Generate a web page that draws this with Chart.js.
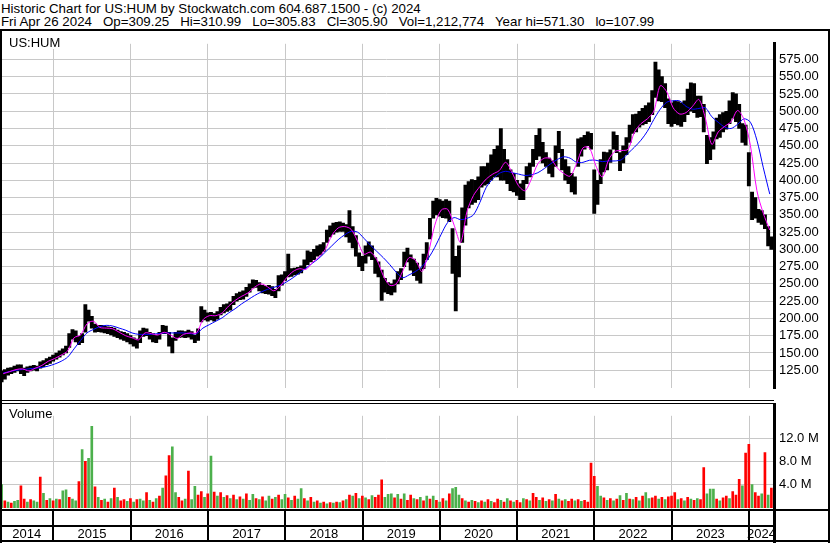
<!DOCTYPE html>
<html>
<head>
<meta charset="utf-8">
<script src="https://cdn.jsdelivr.net/npm/chart.js@4.4.1/dist/chart.umd.min.js"></script>
<style>
  html, body { margin: 0; padding: 0; background: #fff; }
  #wrap { position: relative; width: 830px; height: 543px; overflow: hidden; font-family: "Liberation Sans", Arial, sans-serif; }
  .hdr { position: absolute; left: 1px; font-size: 13.3px; white-space: pre; color: #000; line-height: 13px; }
  .rule { position: absolute; background: #000; }
  canvas { position: absolute; left: 0; }
  .tag { position: absolute; left: 9px; font-size: 13px; color: #000; background: #fff; line-height: 13px; padding-right: 1px; }
</style>
</head>
<body>
<div id="wrap">
  <div class="hdr" style="top:2px">Historic Chart for US:HUM by Stockwatch.com 604.687.1500 - (c) 2024</div>
  <div class="hdr" style="top:15px">Fri Apr 26 2024   Op=309.25   Hi=310.99   Lo=305.83   Cl=305.90   Vol=1,212,774   Year hi=571.30   lo=107.99</div>
  <canvas id="price" width="830" height="370" style="top:31px"></canvas>
  <canvas id="volume" width="830" height="140" style="top:403px"></canvas>
  <div class="rule" style="left:0;top:29px;width:830px;height:2px"></div>
  <div class="rule" style="left:0;top:400px;width:774px;height:1px"></div>
  <div class="rule" style="left:0;top:403px;width:774px;height:1px"></div>
  <div class="rule" style="left:0;top:31px;width:2px;height:512px"></div>
  <div class="rule" style="left:828px;top:31px;width:2px;height:512px"></div>
  <div class="tag" style="top:36px">US:HUM</div>
  <div class="tag" style="top:407px">Volume</div>
</div>
<script>
// rango de fechas (años decimales) visible en el gráfico
const xStart = 2014.31;
const xEnd = 2024.323;
const years = [2014, 2015, 2016, 2017, 2018, 2019, 2020, 2021, 2022, 2023, 2024];
const priceTicks = [125, 150, 175, 200, 225, 250, 275, 300, 325, 350, 375, 400, 425, 450, 475, 500, 525, 550, 575];
const volumeTicks = [4, 8, 12];

// barras de precio cada medio mes: mínimo y máximo
const lows = [
  108,112,118,120,122,124,120,117,122,124, 125,124,128,130,133,135,138,141,144,147,
  150,158,170,166,162,165,180,196,186,180, 181,180,179,178,176,174,172,170,168,166,
  163,160,157,165,174,175,170,166,165,170, 178,178,160,150,168,172,173,172,173,170,
  165,168,195,198,196,198,196,199,205,208, 210,212,220,225,227,228,232,238,244,245,
  240,237,236,235,233,230,240,248,255,260, 261,263,264,266,272,278,282,285,290,292,
  297,310,318,322,325,326,326,318,310,302, 290,275,269,280,290,285,265,260,226,238,
  236,234,238,250,256,275,282,270,262,255, 251,272,285,315,345,350,348,346,345,340,
  265,211,260,310,335,360,365,368,372,390, 393,395,400,405,405,400,400,395,385,383,
  378,372,372,395,405,420,430,435,425,420, 410,405,420,440,415,400,395,383,380,420,
  435,445,450,445,352,365,395,412,415,426, 445,440,414,425,437,455,468,470,477,480,
  482,485,495,520,515,514,505,482,478,482, 480,478,485,495,500,498,491,492,470,424,
  430,445,460,462,470,474,482,490,485,475, 455,451,392,343,345,339,336,330,305,300
];
const highs = [
  124,126,128,129,131,133,133,128,130,131, 132,131,137,139,142,144,147,150,153,156,
  160,178,184,182,174,178,220,212,203,192, 190,190,189,188,187,186,183,181,180,178,
  175,172,170,182,186,185,180,178,176,180, 190,189,180,172,180,182,182,181,183,181,
  176,185,217,212,208,209,207,210,216,220, 221,224,232,236,238,240,245,250,256,255,
  252,248,247,248,246,242,262,263,268,293, 272,273,274,276,285,298,296,300,305,307,
  310,328,334,338,339,340,338,336,356,333, 320,295,290,305,311,305,288,282,270,258,
  252,250,256,268,272,296,302,292,286,280, 272,293,310,345,370,374,372,370,372,370,
  330,290,305,360,393,398,401,400,405,420, 420,425,437,445,450,475,445,430,415,410,
  400,395,400,420,425,445,465,475,455,440, 432,428,450,471,445,430,420,410,405,460,
  462,465,470,468,415,400,430,441,440,444, 470,465,440,450,462,480,495,496,500,504,
  508,512,530,571,560,550,540,518,512,515, 514,512,515,532,541,540,522,522,510,465,
  462,470,490,495,498,500,515,527,525,510, 482,480,440,383,375,358,356,350,333,318
];

// medias móviles mensuales (rosa = corta, azul = larga)
const maShort = [
  120,123,126,127,124,128,132,138,142,147, 153,172,176,192,196,187,186,185,180,175,
  172,169,179,178,176,180,176,171,177,179, 179,198,204,204,208,218,226,232,237,245,
  250,246,240,247,259,268,272,271,281,289, 300,320,331,333,329,312,293,296,285,262,
  248,250,268,288,284,268,295,335,357,358, 335,310,355,378,391,402,409,414,426,411,
  392,385,402,424,432,431,418,410,406,424, 447,447,421,405,430,442,443,445,470,482,
  489,500,537,528,505,496,498,507,517,490, 452,470,478,485,501,488,450,385,352,328
];
const maLong = [
  121,123,125,126,127,128,129,131,134,138, 144,156,168,179,184,188,190,189,186,183,
  179,177,177,177,178,179,179,179,179,178, 178,186,191,196,201,208,214,221,227,233,
  238,242,245,248,253,259,266,273,280,287, 296,305,314,321,326,325,316,306,297,288,
  278,267,259,263,268,275,287,303,322,339, 346,343,345,350,368,390,402,410,413,411,
  409,407,408,411,417,424,430,434,432,426, 426,429,429,427,428,428,430,439,448,458,
  471,488,503,513,515,515,507,503,504,505, 492,484,477,475,481,489,484,458,418,380
];

// volumen cada medio mes (millones) y si fue alza (1) o baja (0)
const volume = [
  4.0,1.2,1.0,0.8,1.1,1.3,3.8,1.5,1.0,1.4, 1.2,1.0,5.3,2.5,1.3,1.6,1.2,1.5,1.4,2.9,
  3.1,1.8,1.5,1.2,4.5,10.0,8.0,8.5,14.0,3.6, 1.8,1.3,1.5,1.0,1.6,3.4,1.8,1.2,1.4,1.1,
  1.6,1.0,1.4,1.5,1.2,2.6,1.3,1.0,1.6,2.0, 3.4,5.5,9.0,10.5,2.6,1.8,1.2,1.5,6.3,1.4,
  3.7,2.2,2.8,1.8,2.4,8.9,2.7,2.0,2.6,1.8, 2.1,1.6,2.2,1.4,1.9,1.5,2.4,1.3,2.3,1.6,
  1.4,1.9,1.2,2.0,1.5,1.8,2.2,1.4,2.3,1.7, 1.3,2.0,1.5,3.3,1.6,1.2,1.8,1.0,1.2,0.8,
  1.0,0.7,0.9,0.8,1.0,0.9,1.2,1.4,2.2,2.0, 2.5,1.6,2.0,1.7,1.4,2.1,1.8,2.2,4.8,1.8,
  2.3,2.4,1.7,2.3,1.5,2.4,1.3,2.2,1.6,1.4, 1.8,1.2,2.0,1.5,2.0,1.3,1.0,1.6,1.2,2.4,
  3.3,3.5,2.2,1.6,1.2,1.0,1.3,1.1,0.9,1.2, 1.0,1.4,1.1,0.9,1.5,1.3,1.0,1.6,1.2,1.0,
  1.3,0.9,1.6,1.4,1.2,2.5,1.8,1.3,1.7,1.1, 1.4,1.2,2.3,1.5,1.2,1.4,1.1,1.5,1.2,1.4,
  1.1,1.3,1.0,7.7,5.4,3.7,2.0,1.7,1.3,1.6, 1.2,1.5,2.1,1.3,2.5,1.5,1.4,1.8,1.2,2.0,
  2.6,1.6,1.7,2.0,1.5,1.8,1.4,1.9,2.0,2.6, 1.4,1.6,1.2,1.8,1.5,1.3,1.6,1.4,6.9,2.4,
  3.2,3.2,1.5,1.2,1.7,2.0,1.6,2.8,2.2,4.9, 3.8,9.4,10.9,4.0,2.6,2.0,2.4,9.5,2.2,3.4
];
const volumeUp = [
  1,0,1,0,1,1,0,0,1,0, 1,1,0,1,0,1,0,1,0,1,
  1,0,1,1,0,1,0,1,1,0, 1,0,1,0,1,0,1,0,0,1,
  0,1,0,1,1,0,1,0,1,0, 1,0,0,1,1,0,0,1,0,1,
  1,0,0,1,0,1,0,1,0,1, 0,1,0,1,0,1,0,1,1,0,
  1,0,1,1,0,1,0,1,1,0, 1,0,1,1,0,1,0,1,0,1,
  0,1,0,1,0,1,0,1,0,1, 0,1,0,1,0,1,0,0,0,1,
  1,1,0,1,0,1,0,0,1,0, 1,0,1,0,1,0,1,0,1,0,
  1,1,1,0,1,0,1,0,1,0, 1,0,1,0,0,1,0,1,0,1,
  0,0,1,0,1,0,0,1,0,1, 0,1,0,1,0,1,0,0,1,0,
  1,0,0,0,0,1,1,0,1,0, 1,0,1,0,1,0,1,0,1,0,
  1,1,0,0,1,0,1,0,0,0, 1,0,1,0,1,0,1,0,0,1,
  1,1,0,1,0,0,1,0,0,0, 1,0,0,1,0,0,1,0,1,0
];

const FONT = "'Liberation Sans', Arial, sans-serif";
const GRID = '#c8c8c8';
const halfMonthX = i => xStart + (i + 0.5) / 24;
const monthX = j => xStart + (j + 0.5) / 12;

const xScale = {
    type: 'linear',
    offset: false,
    min: xStart,
    max: xEnd,
    afterBuildTicks: s => { s.ticks = years.filter(y => y > xStart).map(v => ({ value: v })); },
    ticks: { display: false },
    grid: { color: GRID, lineWidth: 1, drawTicks: false, offset: false },
    border: { display: false },
    afterFit: s => { s.height = 0; }
};

new Chart(document.getElementById('price'), {
    type: 'bar',
    data: {
        datasets: [
            {
                type: 'line',
                data: maShort.map((v, j) => ({ x: monthX(j), y: v })),
                borderColor: '#ff00ff',
                borderWidth: 1,
                pointRadius: 0,
                tension: 0.3,
                order: 1
            },
            {
                type: 'line',
                data: maLong.map((v, j) => ({ x: monthX(j), y: v })),
                borderColor: '#0000ff',
                borderWidth: 1,
                pointRadius: 0,
                tension: 0.3,
                order: 2
            },
            {
                type: 'bar',
                data: highs.map((h, i) => ({ x: halfMonthX(i), y: [lows[i], h] })),
                backgroundColor: '#000',
                categoryPercentage: 1,
                barPercentage: 1,
                order: 3
            }
        ]
    },
    options: {
        responsive: false,
        animation: false,
        layout: { padding: 0 },
        plugins: { legend: { display: false }, tooltip: { enabled: false } },
        scales: {
            x: xScale,
            y: {
                position: 'right',
                min: 99,
                max: 597.6,
                afterBuildTicks: s => { s.ticks = priceTicks.map(v => ({ value: v })); },
                ticks: { color: '#000', font: { family: FONT, size: 13 }, padding: 5, callback: v => v.toFixed(2) },
                grid: { color: GRID, drawTicks: false },
                border: { color: '#000', width: 3 },
                afterFit: s => { s.width = 56; }
            }
        }
    }
});

// franja inferior con los años
const yearStrip = {
    id: 'yearStrip',
    afterDraw(chart) {
        const ctx = chart.ctx;
        const x = chart.scales.x;
        const area = chart.chartArea;
        const top = area.bottom;
        ctx.save();
        ctx.fillStyle = '#000';
        ctx.fillRect(0, top - 1, 830, 2);
        ctx.fillRect(0, top + 15, area.right, 2);
        ctx.fillRect(0, top + 30, 830, 2);
        ctx.fillRect(area.right - 1, 0, 3, chart.height);
        const bounds = [area.left].concat(years.filter(y => y > xStart).map(y => x.getPixelForValue(y))).concat([area.right]);
        bounds.slice(1, -1).forEach(b => ctx.fillRect(Math.round(b) - 1, top, 2, 31));
        ctx.font = '13px ' + FONT;
        ctx.textAlign = 'center';
        ctx.textBaseline = 'middle';
        for (let k = 0; k < years.length; k++) {
            const cx = (bounds[k] + bounds[k + 1]) / 2;
            ctx.fillText(String(years[k]), cx, top + 24);
        }
        ctx.restore();
    }
};

new Chart(document.getElementById('volume'), {
    type: 'bar',
    data: {
        datasets: [{
            data: volume.map((v, i) => ({ x: halfMonthX(i), y: v })),
            backgroundColor: volumeUp.map(u => u ? '#4cb04c' : '#ff0000'),
            barThickness: 2
        }]
    },
    options: {
        responsive: false,
        animation: false,
        layout: { padding: { bottom: 33 } },
        plugins: { legend: { display: false }, tooltip: { enabled: false } },
        scales: {
            x: xScale,
            y: {
                position: 'right',
                min: -0.38,
                max: 15.83,
                afterBuildTicks: s => { s.ticks = volumeTicks.map(v => ({ value: v })); },
                ticks: { color: '#000', font: { family: FONT, size: 13 }, padding: 5, callback: v => v.toFixed(1) + ' M' },
                grid: { color: GRID, drawTicks: false },
                border: { color: '#000', width: 3 },
                afterFit: s => { s.width = 56; }
            }
        }
    },
    plugins: [yearStrip]
});
</script>
</body>
</html>
